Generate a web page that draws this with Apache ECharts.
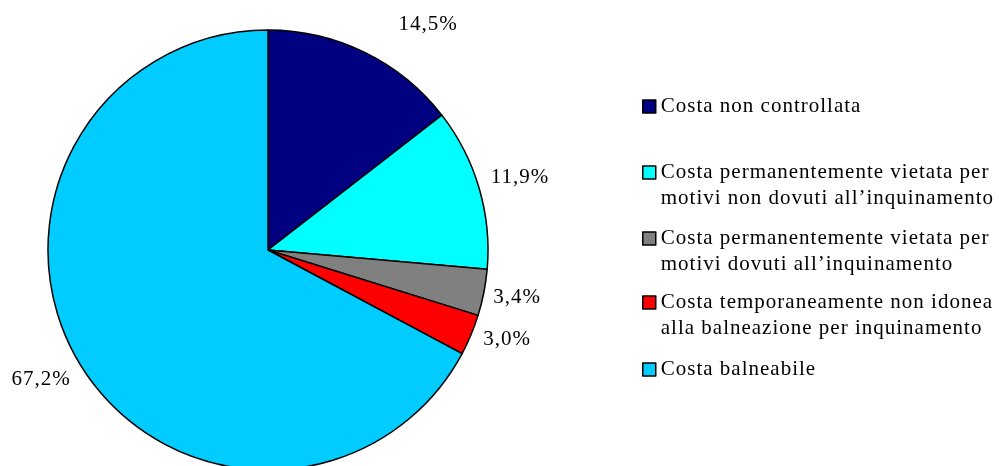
<!DOCTYPE html>
<html>
<head>
<meta charset="utf-8">
<script src="https://cdn.jsdelivr.net/npm/echarts@6/dist/echarts.min.js"></script>
<style>html,body{margin:0;padding:0;background:#fff;}#c{width:999px;height:466px;}</style>
</head>
<body>
<div id="c"></div>
<script>
// Data
var categories = [
  "Costa non controllata",
  "Costa permanentemente vietata per\nmotivi non dovuti all\u2019inquinamento",
  "Costa permanentemente vietata per\nmotivi dovuti all\u2019inquinamento",
  "Costa temporaneamente non idonea\nalla balneazione per inquinamento",
  "Costa balneabile"
];
var values = [14.5, 11.9, 3.4, 3.0, 67.2];
var valueLabels = ["14,5%", "11,9%", "3,4%", "3,0%", "67,2%"];

// Styles
var colors = ["#000080", "#00FFFF", "#808080", "#FF0000", "#00CCFF"];
var FONT = "'Liberation Serif', 'Times New Roman', serif";
var FS = 21, LH = 26;
var CX = 268, CY = 250, R = 220;
// label anchor offsets relative to pie centre (layout only)
var labelOffsets = [[160, -226], [252, -73], [249, 47], [239, 89], [-227, 129]];
var legendIconTops = [100, 166, 232, 296, 363];

// slight letter spacing to mimic the reference's wide serif text
(function () {
  var p = CanvasRenderingContext2D.prototype, f = p.fillText, m = p.measureText;
  p.fillText = function () { this.letterSpacing = '1px'; return f.apply(this, arguments); };
  p.measureText = function () { this.letterSpacing = '1px'; return m.apply(this, arguments); };
})();

var chart = echarts.init(document.getElementById('c'), null, {renderer: 'canvas'});

var legends = categories.map(function (name, i) {
  var twoLine = name.indexOf('\n') >= 0;
  return {
    data: [name],
    orient: 'vertical',
    left: 642,
    top: legendIconTops[i] - (twoLine ? (1.5 * LH - 6.5) : (LH / 2 - 6.5)),
    padding: 0,
    itemWidth: 13,
    itemHeight: 13,
    icon: 'rect',
    selectedMode: false,
    itemStyle: {borderColor: '#000', borderWidth: 1.5},
    formatter: function (n) { return n.indexOf('\n') >= 0 ? '\n' + n : n; },
    textStyle: {fontFamily: FONT, fontSize: FS, color: '#000', lineHeight: LH}
  };
});

chart.setOption({
  animation: false,
  backgroundColor: '#fff',
  legend: legends,
  series: [{
    type: 'pie',
    center: [CX, CY],
    radius: R,
    startAngle: 90,
    clockwise: true,
    avoidLabelOverlap: false,
    emphasis: {disabled: true},
    itemStyle: {borderColor: '#000', borderWidth: 1.5},
    label: {
      show: true,
      position: 'outside',
      fontFamily: FONT, fontSize: FS, color: '#000',
      formatter: function (p) { return valueLabels[p.dataIndex]; }
    },
    labelLine: {show: false},
    labelLayout: function (p) {
      var o = labelOffsets[p.dataIndex];
      return {x: CX + o[0], y: CY + o[1], align: 'center', verticalAlign: 'middle'};
    },
    data: categories.map(function (n, i) {
      return {name: n, value: values[i], itemStyle: {color: colors[i]}};
    })
  }]
});
</script>
</body>
</html>
